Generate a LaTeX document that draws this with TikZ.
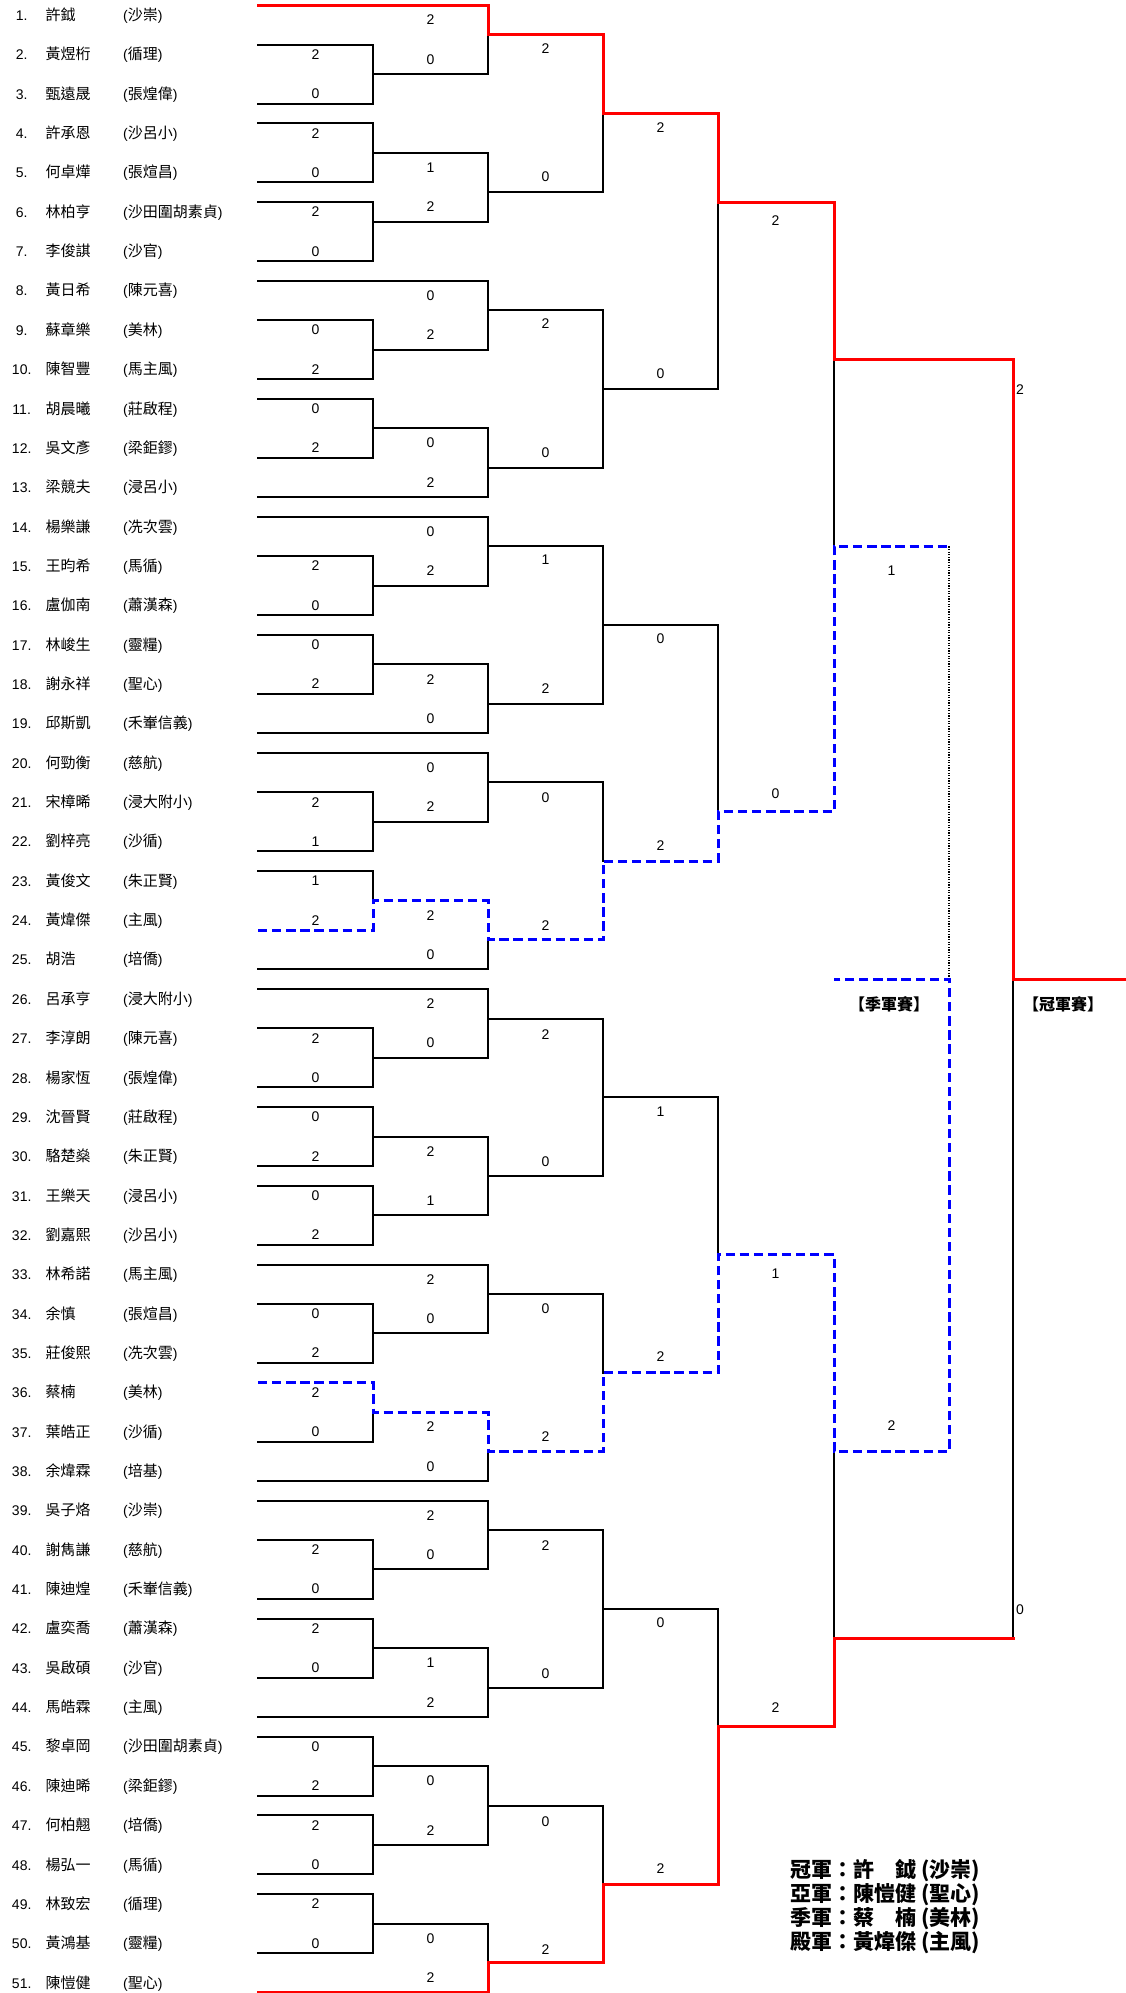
\documentclass[tikz,border=0pt]{standalone}
\usepackage{fontspec}
\setmainfont{Liberation Sans}
\newfontfamily\zhf{Noto Sans CJK TC}
\newcommand\zhtxt[1]{{\zhf\fontsize{15}{18}\selectfont #1}}
\tikzset{
 bk/.style={line width=2pt, black, line cap=rect, line join=miter},
 rd/.style={line width=3pt, red, line cap=rect, line join=miter},
 bl/.style={line width=3pt, blue, dash pattern=on 9.3pt off 4.8pt, line join=miter},
 dt/.style={line width=1.3pt, black, dash pattern=on 1.3pt off 1.3pt},
 sc/.style={inner sep=0pt, font=\fontsize{14}{16}\selectfont},
 num/.style={inner sep=0pt, anchor=base, font=\fontsize{14}{16}\selectfont},
 nm/.style={inner sep=0pt, anchor=base west, font=\zhf\fontsize{15}{18}\selectfont},
 sch/.style={inner sep=0pt, anchor=base west, font=\fontsize{14}{16}\selectfont},
 lab/.style={inner sep=0pt, font=\zhf\bfseries\fontsize{16}{18}\selectfont},
 leg/.style={inner sep=0pt, anchor=base west, font=\zhf\bfseries\fontsize{21}{24}\selectfont},
}
\begin{document}
\begin{tikzpicture}[x=1pt,y=-1pt]
\useasboundingbox (0,0) rectangle (1126,1993);
\begin{scope}[x=1pt,y=-9.8375pt,yshift=-5.3pt]
% ---------- players ----------
\foreach \i/\nm/\sch in {1/許鉞/沙崇,2/黃煜桁/循理,3/甄遠晟/張煌偉,4/許承恩/沙呂小,5/何卓燁/張煊昌,6/林柏亨/沙田圍胡素貞,7/李俊諆/沙官,8/黃日希/陳元喜,9/蘇章樂/美林,10/陳智豐/馬主風,11/胡晨曦/莊啟程,12/吳文彥/梁鉅鏐,13/梁競夫/浸呂小,14/楊樂謙/冼次雲,15/王昀希/馬循,16/盧伽南/蕭漢森,17/林峻生/靈糧,18/謝永祥/聖心,19/邱斯凱/禾輋信義,20/何勁衡/慈航,21/宋樟晞/浸大附小,22/劉梓亮/沙循,23/黃俊文/朱正賢,24/黃煒傑/主風,25/胡浩/培僑,26/呂承亨/浸大附小,27/李淳朗/陳元喜,28/楊家恆/張煌偉,29/沈晉賢/莊啟程,30/駱楚燊/朱正賢,31/王樂天/浸呂小,32/劉嘉熙/沙呂小,33/林希諾/馬主風,34/余慎/張煊昌,35/莊俊熙/冼次雲,36/蔡楠/美林,37/葉皓正/沙循,38/余煒霖/培基,39/吳子烙/沙崇,40/謝雋謙/慈航,41/陳迪煌/禾輋信義,42/盧奕喬/蕭漢森,43/吳啟碩/沙官,44/馬皓霖/主風,45/黎卓岡/沙田圍胡素貞,46/陳迪晞/梁鉅鏐,47/何柏翹/培僑,48/楊弘一/馬循,49/林致宏/循理,50/黃鴻基/靈糧,51/陳愷健/聖心}{
  \node[num] (n\i) at (21.7,{4*\i-2.45}) {\i.};
  \node[nm] (p\i) at (45.5,{4*\i-2.45}) {\nm};
  \node[sch] (s\i) at (123,{4*\i-2.45}) {(\zhtxt{\sch})};
}
% ---------- black lines ----------
\foreach \t/\b/\m in {4/10/7,12/18/15,20/26/22,32/38/35,40/46/43,56/62/59,64/70/67,80/86/83,104/110/107,112/118/115,120/126/123,132/138/135,156/162/159,164/170/167,176/182/179,184/190/187,192/198/195}{
  \draw[bk] (258,\t) -- (373,\t) -- (373,\b) -- (258,\b);
  \draw[bk] (373,\m) -- (488,\m);
}
\draw[bk] (258,88) -- (373,88) -- (373,91);
\draw[bk] (373,143) -- (373,146) -- (258,146);
\foreach \k in {28,50,52,74,76,98,100,128,150,152,174}{
  \draw[bk] (258,\k) -- (488,\k);
}
\foreach \t/\b/\m in {15/22/19,28/35/31,43/50/47,52/59/55,67/74/71,76/83/79,100/107/103,115/123/119,128/135/131,152/159/155,167/174/171,179/187/183}{
  \draw[bk] (488,\t) -- (488,\b);
  \draw[bk] (488,\m) -- (603,\m);
}
\draw[bk] (488,3) -- (488,7);
\draw[bk] (488,95) -- (488,98);
\draw[bk] (488,147) -- (488,150);
\draw[bk] (488,195) -- (488,199);
\foreach \t/\b/\m in {31/47/39,55/71/63,103/119/111,155/171/163}{
  \draw[bk] (603,\t) -- (603,\b);
  \draw[bk] (603,\m) -- (718,\m);
}
\draw[bk] (603,11) -- (603,19);
\draw[bk] (603,79) -- (603,87);
\draw[bk] (603,131) -- (603,139);
\draw[bk] (603,183) -- (603,191);
\draw[bk] (718,20) -- (718,39);
\draw[bk] (718,63) -- (718,82);
\draw[bk] (718,111) -- (718,127);
\draw[bk] (718,163) -- (718,175);
\draw[bk] (834,36) -- (834,55);
\draw[bk] (834,147) -- (834,166);
\draw[bk] (1013,99) -- (1013,166);
\draw[dt] (949,55) -- (949,99);
% ---------- coloured paths ----------
\draw[rd] (258,0) -- (488,0) -- (488,3) -- (603,3) -- (603,11) -- (718,11) -- (718,20) -- (834,20) -- (834,36) -- (1013,36) -- (1013,99) -- (1126,99);
\draw[rd] (258,202) -- (488,202) -- (488,199) -- (603,199) -- (603,191) -- (718,191) -- (718,175) -- (834,175) -- (834,166) -- (1013,166);
\draw[bl] (258,94) -- (373,94) -- (373,91) -- (488,91) -- (488,95) -- (603,95) -- (603,87) -- (718,87) -- (718,82) -- (834,82) -- (834,55) -- (949,55);
\draw[bl] (258,140) -- (373,140) -- (373,143) -- (488,143) -- (488,147) -- (603,147) -- (603,139) -- (718,139) -- (718,127) -- (834,127) -- (834,147) -- (949,147) -- (949,99) -- (834,99);
% ---------- scores ----------
\foreach \p/\s in {2/2,3/0,4/2,5/0,6/2,7/0,9/0,10/2,11/0,12/2,15/2,16/0,17/0,18/2,21/2,22/1,23/1,24/2,27/2,28/0,29/0,30/2,31/0,32/2,34/0,35/2,36/2,37/0,40/2,41/0,42/2,43/0,45/0,46/2,47/2,48/0,49/2,50/0}{
  \node[sc] (ra\p) at (315.5,{4*\p-3}) {\s};
}
\foreach \k/\s [count=\n] in {1.5/2,5.5/0,16.5/1,20.5/2,29.5/0,33.5/2,44.5/0,48.5/2,53.5/0,57.5/2,68.5/2,72.5/0,77.5/0,81.5/2,92.5/2,96.5/0,101.5/2,105.5/0,116.5/2,121.5/1,129.5/2,133.5/0,144.5/2,148.5/0,153.5/2,157.5/0,168.5/1,172.5/2,180.5/0,185.5/2,196.5/0,200.5/2}{
  \node[sc] (rb\n) at (430.5,\k) {\s};
}
\foreach \k/\s [count=\n] in {4.4/2,17.4/0,32.4/2,45.5/0,56.4/1,69.5/2,80.5/0,93.5/2,104.6/2,117.5/0,132.5/0,145.5/2,156.6/2,169.6/0,184.6/0,197.6/2}{
  \node[sc] (rc\n) at (545.5,\k) {\s};
}
\foreach \k/\s [count=\n] in {12.4/2,37.4/0,64.4/0,85.4/2,112.5/1,137.4/2,164.4/0,189.4/2}{
  \node[sc] (rd\n) at (660.5,\k) {\s};
}
\foreach \k/\s [count=\n] in {21.9/2,80.1/0,128.9/1,173.0/2}{
  \node[sc] (re\n) at (775.5,\k) {\s};
}
\node[sc] (tp1) at (891.5,57.5) {1};
\node[sc] (tp2) at (891.5,144.4) {2};
\node[sc,anchor=west] (fn1) at (1016,39.1) {2};
\node[sc,anchor=west] (fn2) at (1016,163.1) {0};
% ---------- labels ----------
\node[lab] (third) at (889,101.5) {【季軍賽】};
\node[lab] (final) at (1063,101.5) {【冠軍賽】};
\end{scope}
% ---------- legend ----------
\node[leg] (lg1) at (790,1877) {冠軍：許　鉞 (沙崇)};
\node[leg] (lg2) at (790,1901) {亞軍：陳愷健 (聖心)};
\node[leg] (lg3) at (790,1925) {季軍：蔡　楠 (美林)};
\node[leg] (lg4) at (790,1949) {殿軍：黃煒傑 (主風)};
\end{tikzpicture}
\end{document}
